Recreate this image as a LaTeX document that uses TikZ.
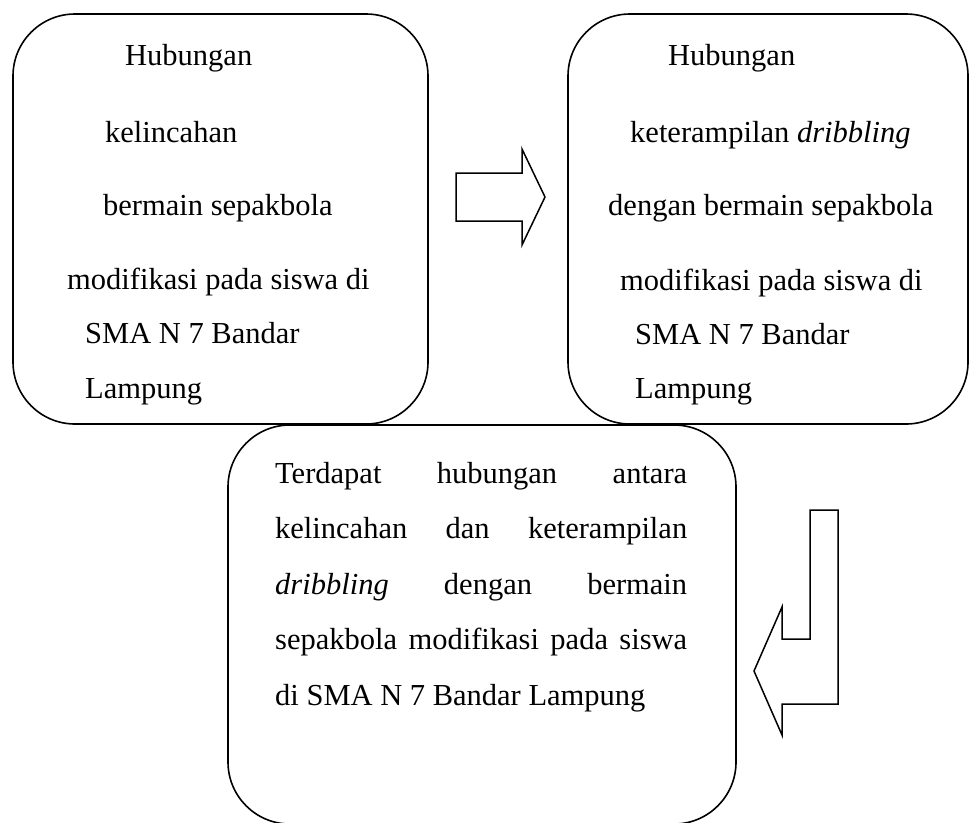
\documentclass[tikz,border=0pt]{standalone}
\usepackage{fontspec}
\setmainfont{Liberation Serif}

\begin{document}
\begin{tikzpicture}[
      x=1pt, y=-1pt,
      box/.style={draw, line width=1.6pt, rounded corners=62pt, inner sep=0pt},
      txt/.style={anchor=base west, inner sep=0pt, font=\fontsize{30.5}{36}\selectfont},
      blockarrow/.style={draw, line width=1.5pt, line join=miter}
    ]
      \useasboundingbox (0,0) rectangle (974,822);

      % the three boxes
      \node[box, minimum width=415pt, minimum height=410pt] (left) at (220.5,219) {};
      \node[box, minimum width=400pt, minimum height=410pt] (right) at (768,219) {};
      \node[box, minimum width=508pt, minimum height=399pt] (result) at (482,624.5) {};

      % text of the left box
      \node[txt] (l1) at (125,65) {Hubungan};
      \node[txt] (l2) at (105,142) {kelincahan};
      \node[txt] (l3) at (103,215) {bermain sepakbola};
      \node[txt] (l4) at (67,289) {modifikasi pada siswa di};
      \node[txt] (l5) at (85,343) {SMA N 7 Bandar};
      \node[txt] (l6) at (85,398) {Lampung};

      % text of the right box
      \node[txt] (r1) at (668,65) {Hubungan};
      \node[txt] (r2) at (630,142) {keterampilan \textit{dribbling}};
      \node[txt] (r3) at (608,215) {dengan bermain sepakbola};
      \node[txt] (r4) at (620,290) {modifikasi pada siswa di};
      \node[txt] (r5) at (635,344) {SMA N 7 Bandar};
      \node[txt] (r6) at (635,398) {Lampung};

      % text of the lower box, justified
      \node[txt] (t1) at (275,483) {\makebox[412pt][s]{Terdapat hubungan antara}};
      \node[txt] (t2) at (275,538.5) {\makebox[412pt][s]{kelincahan dan keterampilan}};
      \node[txt] (t3) at (275,594) {\makebox[412pt][s]{\textit{dribbling} dengan bermain}};
      \node[txt] (t4) at (275,649.5) {\makebox[412pt][s]{sepakbola modifikasi pada siswa}};
      \node[txt] (t5) at (275,705) {di SMA N 7 Bandar Lampung};

      % block arrows
      \draw[blockarrow] (456,173) -- (522,173) -- (522,149) -- (545,197)
        -- (522,245) -- (522,221) -- (456,221) -- cycle;
      \draw[blockarrow] (810,510) -- (838,510) -- (838,704) -- (782,704)
        -- (782,735) -- (754,671) -- (782,607) -- (782,639) -- (810,639) -- cycle;
    \end{tikzpicture}
\end{document}
